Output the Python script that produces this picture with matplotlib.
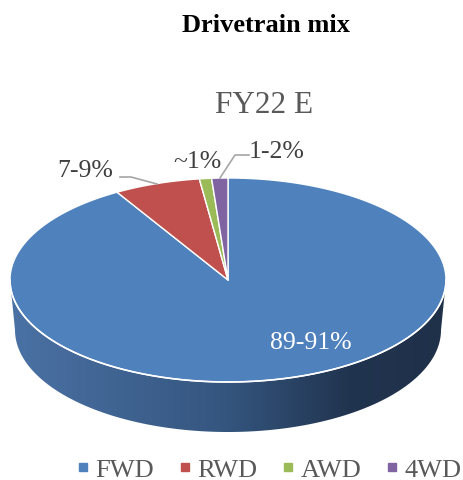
import numpy as np
import matplotlib
matplotlib.use("Agg")
import matplotlib.pyplot as plt
from matplotlib.patches import Polygon
from matplotlib.colors import LinearSegmentedColormap
from matplotlib.lines import Line2D

# ---- data ----
categories = ["FWD", "RWD", "AWD", "4WD"]
shares = [91.5, 6.4, 0.9, 1.2]
labels = ["89-91%", "7-9%", "~1%", "1-2%"]
colors = ["#4f81bd", "#c0504d", "#9bbb59", "#8064a2"]
title = "Drivetrain mix"
subtitle = "FY22 E"

W, H = 464, 481
fig = plt.figure(figsize=(W / 100, H / 100), dpi=100)
ax = fig.add_axes([0, 0, 1, 1])
ax.set_xlim(0, W)
ax.set_ylim(H, 0)
ax.axis("off")

serif = ["Liberation Serif", "DejaVu Serif"]

# geometry of the 3D pie (pixel space)
cx, cy, a, b = 228, 281, 218, 102
depth = 50
a2 = a - 5


def top_pt(theta_deg):
    t = np.radians(theta_deg)
    return cx + a * np.sin(t), cy - b * np.cos(t)


# side (front rim) with gradient
th = np.linspace(90, 270, 200)
tr = np.radians(th)
top_edge = np.column_stack([cx + a * np.sin(tr), cy - b * np.cos(tr)])
bot_edge = np.column_stack([cx + a2 * np.sin(tr), cy + depth - b * np.cos(tr)])
side_poly = np.vstack([top_edge, bot_edge[::-1]])
side_patch = Polygon(side_poly, closed=True, facecolor="none", edgecolor="none")
ax.add_patch(side_patch)
cmap = LinearSegmentedColormap.from_list(
    "side",
    [(0.0, "#4b72a5"), (0.5, "#34557e"), (0.78, "#21344f"), (1.0, "#1f3049")],
)
grad = np.linspace(0, 1, 256).reshape(1, -1)
im = ax.imshow(grad, cmap=cmap, aspect="auto",
               extent=[cx - a, cx + a, cy + b + depth + 2, cy - 5], zorder=1)
im.set_clip_path(side_patch)
ax.set_xlim(0, W)
ax.set_ylim(H, 0)

# top face wedges
total = sum(shares)
start = 0.0
for val, col in zip(shares, colors):
    span = 360.0 * val / total
    angs = np.linspace(start, start + span, max(int(span * 2), 4))
    pts = [(cx, cy)] + [top_pt(t) for t in angs]
    ax.add_patch(Polygon(pts, closed=True, facecolor=col, edgecolor="white",
                         linewidth=1.0, joinstyle="round", zorder=2))
    start += span

# white rim line between top face and side
ax.plot(top_edge[:, 0], top_edge[:, 1], color="white", lw=1.2, zorder=3)

# titles
ax.text(266, 32, title, ha="center", va="baseline", fontsize=19,
        fontweight="bold", family=serif, color="black")
ax.text(264, 113, subtitle, ha="center", va="baseline", fontsize=22.5,
        family=serif, color="#595959")

# data labels
lab_col = "#404040"
ax.text(311, 349, labels[0], ha="center", va="baseline", fontsize=18.5,
        family=serif, color="white", zorder=4)
ax.text(85, 177, labels[1], ha="center", va="baseline", fontsize=18.5,
        family=serif, color=lab_col)
ax.text(197, 168, labels[2], ha="center", va="baseline", fontsize=18.5,
        family=serif, color=lab_col)
ax.text(277, 158, labels[3], ha="center", va="baseline", fontsize=18.5,
        family=serif, color=lab_col)

# leader lines
ax.plot([120, 131, 157], [178, 178, 185], color="#a6a6a6", lw=1.2, zorder=4)
ax.plot([249, 235, 220], [156, 156, 179], color="#a6a6a6", lw=1.2, zorder=4)

# legend
handles = [Line2D([0], [0], marker="s", linestyle="none", markersize=5.8,
                  markerfacecolor=c, markeredgecolor=c) for c in colors]
leg = fig.legend(handles, categories, loc="center left",
                 bbox_to_anchor=(78 / W, 1 - 470 / H),
                 ncol=4, frameon=False, handlelength=0.38, handletextpad=0.28,
                 columnspacing=0.98, borderaxespad=0, borderpad=0,
                 prop={"family": serif, "size": 19})
for t in leg.get_texts():
    t.set_color("#595959")

fig.savefig("out.png", dpi=100)
